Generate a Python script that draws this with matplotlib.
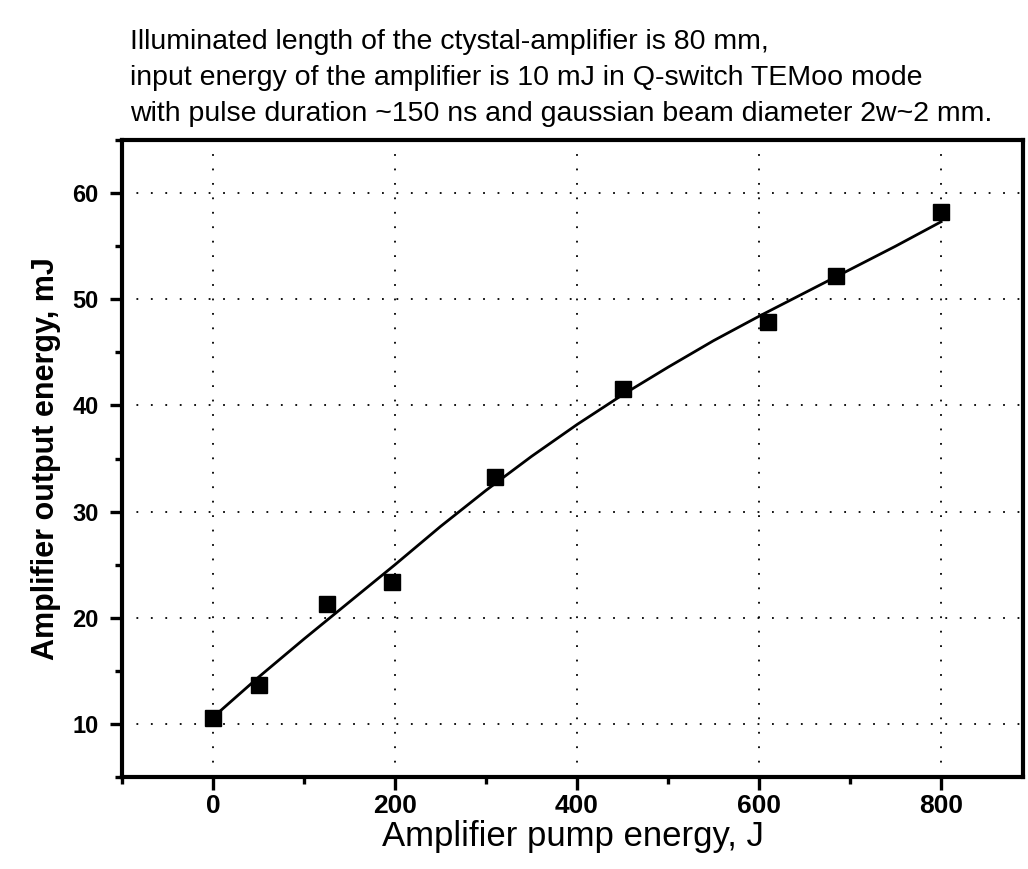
import matplotlib.pyplot as plt
from matplotlib.ticker import MultipleLocator

# measured points (pump energy J, output energy mJ)
pump = [0, 50, 125, 197, 310, 450, 610, 685, 800]
output = [10.6, 13.7, 21.3, 23.4, 33.3, 41.5, 47.9, 52.2, 58.2]

# fitted curve
fit_x = [5, 50, 100, 150, 200, 250, 300, 350, 400, 450, 500, 550, 600, 650, 700, 750, 800]
fit_y = [11.0, 14.4, 18.0, 21.5, 25.0, 28.6, 32.0, 35.2, 38.2, 41.0, 43.6, 46.1, 48.4, 50.6, 52.8, 55.0, 57.3]

notes = ["Illuminated length of the ctystal-amplifier is 80 mm,",
         "input energy of the amplifier is 10 mJ in Q-switch TEMoo mode",
         "with pulse duration ~150 ns and gaussian beam diameter 2w~2 mm."]

plt.rcParams['font.family'] = ['Liberation Sans', 'DejaVu Sans']

W, H = 1028, 869
fig = plt.figure(figsize=(W / 100, H / 100), dpi=100)
ax = fig.add_axes([122 / W, 1 - 777 / H, (1023 - 122) / W, (777 - 140) / H])

ax.plot(fit_x, fit_y, color='black', lw=2)
ax.plot(pump, output, 's', color='black', markersize=11)

ax.set_xlim(-100, 890)
ax.set_ylim(5, 65)
ax.set_xticks([0, 200, 400, 600, 800])
ax.set_yticks([10, 20, 30, 40, 50, 60])
ax.xaxis.set_minor_locator(MultipleLocator(100))
ax.yaxis.set_minor_locator(MultipleLocator(5))

ax.grid(True, which='major', color='black', linestyle=(0, (1, 7)), lw=1.3)

for s in ax.spines.values():
    s.set_linewidth(3)

ax.tick_params(which='major', direction='out', length=9, width=2.4)
ax.tick_params(which='minor', direction='out', length=5, width=2.4)
ax.tick_params(axis='y', which='major', pad=8)
ax.tick_params(axis='x', which='major', pad=3)
for lab in ax.get_yticklabels():
    lab.set_fontsize(17)
    lab.set_fontweight('bold')
for lab in ax.get_xticklabels():
    lab.set_fontsize(19)
    lab.set_fontweight('bold')

ax.set_xlabel('Amplifier pump energy, J', fontsize=25, labelpad=2)
ax.set_ylabel('Amplifier output energy, mJ', fontsize=22, fontweight='bold', labelpad=8)

for i, line in enumerate(notes):
    fig.text(130 / W, 1 - (42 + 36 * i) / H, line, fontsize=20.5, va='center', ha='left')

fig.savefig('out.png', dpi=100)
